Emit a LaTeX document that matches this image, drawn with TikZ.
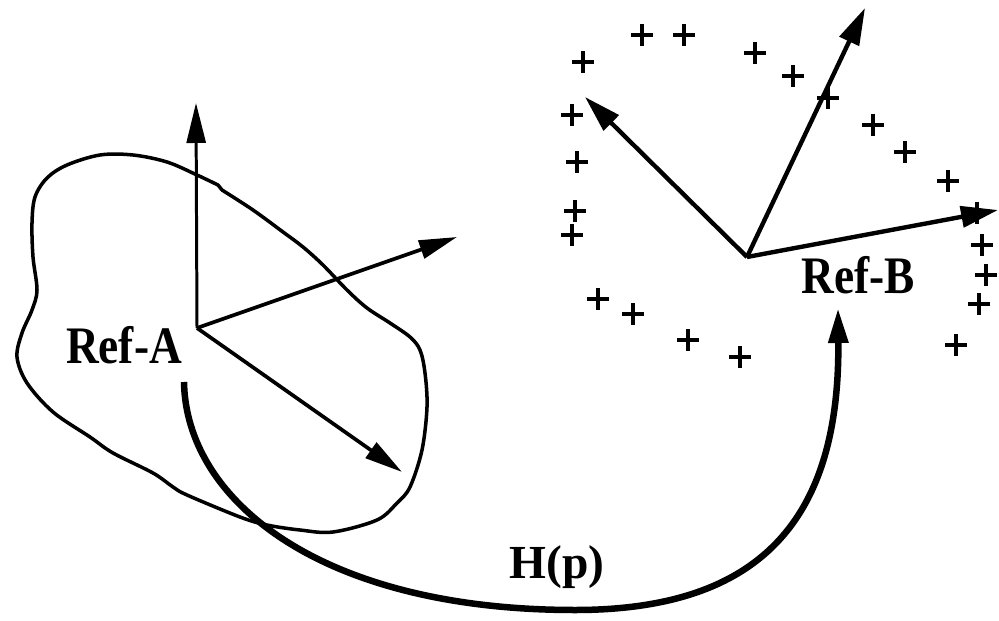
\documentclass[tikz,border=0pt]{standalone}
\usepackage{fontspec}
\setmainfont{Liberation Serif}
\newfontfamily\labfont[FakeStretch=0.86]{Liberation Serif}
\usetikzlibrary{arrows.meta}
\begin{document}
\begin{tikzpicture}[x=0.02cm,y=-0.02cm,
  blobline/.style={line width=2pt,line join=round},
  axisthin/.style={line width=1.7pt,-{Triangle[length=0.8cm,width=0.38cm]}},
  axisA/.style={line width=2.1pt,-{Triangle[length=0.76cm,width=0.37cm]}},
  axisB/.style={line width=2.5pt,-{Triangle[length=0.74cm,width=0.42cm]}},
  maparrow/.style={line width=3.7pt,-{Triangle[length=0.7cm,width=0.38cm]}},
  lab/.style={font=\labfont\bfseries\fontsize{30}{30}\selectfont,inner sep=0pt,anchor=base},
  hlab/.style={font=\bfseries\fontsize{27}{27}\selectfont,inner sep=0pt,anchor=base},
  plusline/.style={line width=2.6pt},
  pluspic/.pic={\draw[plusline] (-11,0)--(11,0) (0,-11)--(0,11);}
]
\useasboundingbox (0,0) rectangle (999,621);

% Ref-A blob
\draw[blobline] plot[smooth,tension=0.55] coordinates {
 (222,190) (253,210) (283,232) (303,247) (323,265) (347,290) (367,308) (390,323)
 (410,337) (420,350) (425,373) (427,407) (422,450) (410,487) (397,503) (377,520)
 (333,532) (300,530) (267,525) (240,517) (187,495) (173,487) (153,473) (113,453)
 (90,437) (53,412) (27,383) (17,357) (22,333) (32,310) (37,290) (33,257) (32,223)
 (35,197) (47,178) (67,165) (100,155) (133,155) (167,162) (197,175) (218,185)}
 -- (222,190);

% Ref-A frame
\coordinate (oA) at (197,328);
\coordinate (aUp) at (196,103);
\coordinate (aRight) at (457,237);
\coordinate (aDown) at (402,472);
\draw[axisthin] (oA) -- (aUp);
\draw[axisA] (oA) -- (aRight);
\draw[axisA] (oA) -- (aDown);
\node[lab] (refA) at (124,363) {Ref-A};

% Ref-B frame
\coordinate (oB) at (747,257);
\coordinate (bLeft) at (585,97);
\coordinate (bUp) at (865,8);
\coordinate (bRight) at (998,210);
\draw[axisB] (oB) -- (bLeft);
\draw[axisB] (oB) -- (bUp);
\draw[axisB] (oB) -- (bRight);
\node[lab] (refB) at (858,293) {Ref-B};

% point cloud
\foreach \p in {(583,62),(642,35),(684,35),(755,53),(793,76),(828,98),(873,125),
  (905,152),(948,181),(977,213),(982,245),(986,275),(979,304),(956,345),
  (572,115),(577,162),(575,211),(572,235),(598,299),(633,314),(688,340),(740,357)}
  \pic at \p {pluspic};

% mapping H(p)
\coordinate (hstart) at (184,382);
\coordinate (hend) at (838,308);
\draw[maparrow] (hstart) .. controls (186,500) and (320,610) .. (575,610)
  .. controls (760,610) and (840,520) .. (hend);
\node[hlab] (hp) at (557,578) {H(p)};
\end{tikzpicture}
\end{document}
